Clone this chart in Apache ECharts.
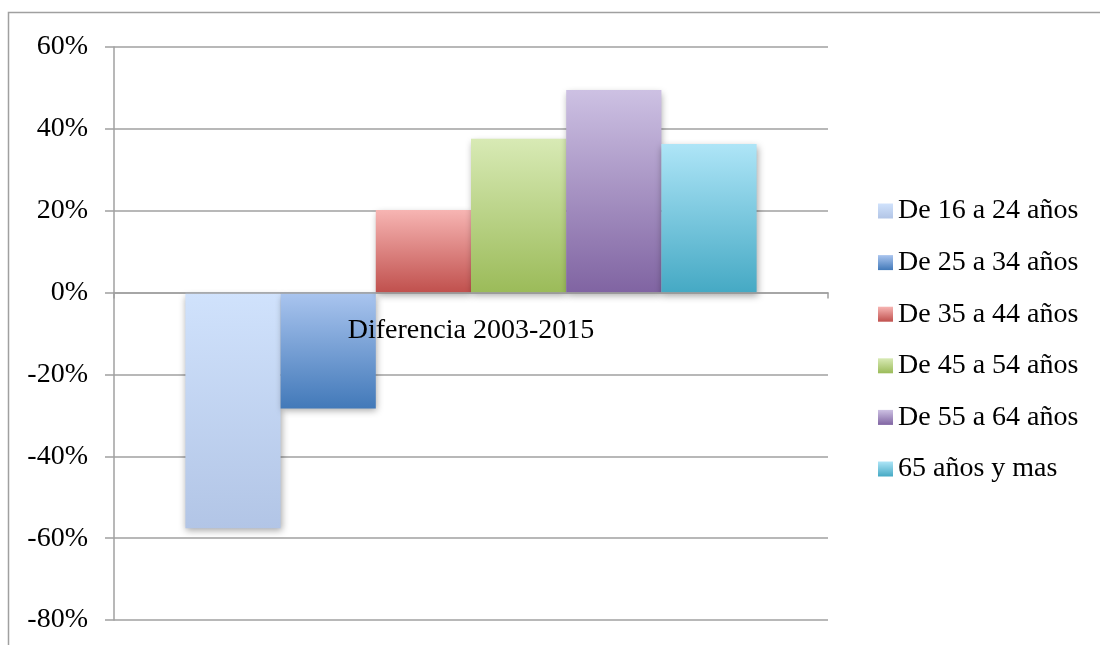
<!DOCTYPE html>
<html>
<head>
<meta charset="utf-8">
<script src="https://cdn.jsdelivr.net/npm/echarts@6/dist/echarts.min.js"></script>
<style>
  html, body { margin: 0; padding: 0; background: #fff; }
  #chart { width: 1100px; height: 645px; }
</style>
</head>
<body>
<div id="chart"></div>
<script>
// data (percent change)
const categories = ['Diferencia 2003-2015'];
const seriesNames = [
  'De 16 a 24 años',
  'De 25 a 34 años',
  'De 35 a 44 años',
  'De 45 a 54 años',
  'De 55 a 64 años',
  '65 años y mas'
];
const seriesValues = [-57.6, -28.3, 20.2, 37.6, 49.5, 36.3];
const yTicks = { min: -80, max: 60, interval: 20 };

// top / bottom colour of each bar gradient
const gradientStops = [
  ['#d0e2fc', '#b2c5e6'],
  ['#aac5ef', '#4279b9'],
  ['#f7b5b3', '#c0504d'],
  ['#d8eab5', '#9bbb59'],
  ['#cdc1e3', '#8064a2'],
  ['#aee5f7', '#45a9c4']
];

const FONT = '"Liberation Serif", "DejaVu Serif", serif';
const FONT_SIZE = 28;
const AXIS_GREY = '#a0a0a0';

const GRID = { left: 114, right: 272, top: 47, bottom: 25 };
const gridHeight = 645 - GRID.top - GRID.bottom;
// lift the category axis up to the 0% line
const zeroOffset = -gridHeight * (0 - yTicks.min) / (yTicks.max - yTicks.min);

function gradient(pair) {
  return new echarts.graphic.LinearGradient(0, 0, 0, 1, [
    { offset: 0, color: pair[0] },
    { offset: 1, color: pair[1] }
  ]);
}

const chart = echarts.init(document.getElementById('chart'));

const option = {
  animation: false,
  backgroundColor: '#fff',
  textStyle: { fontFamily: FONT, color: '#000' },
  graphic: [{
    type: 'rect',
    shape: { x: 8.5, y: 12.5, width: 1200, height: 700 },
    style: { fill: 'none', stroke: AXIS_GREY, lineWidth: 1.5 },
    silent: true
  }],
  grid: Object.assign({ outerBoundsMode: 'none' }, GRID),
  legend: {
    orient: 'vertical',
    left: 873,
    top: 191,
    icon: 'rect',
    itemWidth: 15,
    itemHeight: 15,
    itemGap: 21.6,
    itemStyle: { shadowBlur: 0, shadowOffsetY: 0, shadowColor: 'transparent' },
    textStyle: { fontFamily: FONT, fontSize: FONT_SIZE, color: '#000', lineHeight: 30 },
    data: seriesNames
  },
  xAxis: {
    type: 'category',
    data: categories,
    offset: zeroOffset,
    axisLine: { onZero: false, lineStyle: { color: AXIS_GREY, width: 1.5 } },
    axisTick: { show: true, length: 6, lineStyle: { color: AXIS_GREY, width: 1.5 } },
    axisLabel: { margin: 24, fontSize: FONT_SIZE, color: '#000', fontFamily: FONT },
    z: 3
  },
  yAxis: {
    type: 'value',
    min: yTicks.min,
    max: yTicks.max,
    interval: yTicks.interval,
    axisLine: { show: true, lineStyle: { color: AXIS_GREY, width: 1.5 } },
    axisTick: { show: true, length: 9, lineStyle: { color: AXIS_GREY, width: 1.5 } },
    splitLine: { show: true, lineStyle: { color: AXIS_GREY, width: 1.5 } },
    axisLabel: {
      formatter: '{value}%',
      margin: 26,
      fontSize: FONT_SIZE,
      color: '#000',
      fontFamily: FONT
    }
  },
  series: seriesNames.map((name, i) => ({
    name: name,
    type: 'bar',
    data: [seriesValues[i]],
    barGap: '0%',
    barCategoryGap: '20%',
    itemStyle: {
      color: gradient(gradientStops[i]),
      shadowColor: 'rgba(0,0,0,0.35)',
      shadowBlur: 7,
      shadowOffsetY: 3,
      shadowOffsetX: 1
    }
  }))
};

chart.setOption(option);
</script>
</body>
</html>
